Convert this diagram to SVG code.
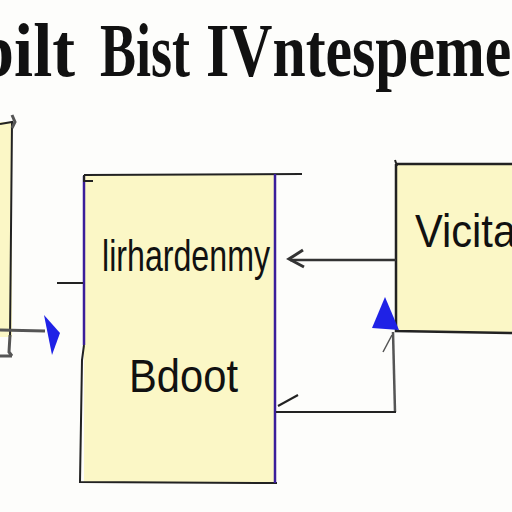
<svg xmlns="http://www.w3.org/2000/svg" width="512" height="512" viewBox="0 0 512 512">
<style>
.title{font-family:"Liberation Serif",serif;font-weight:bold;font-size:76px;fill:#111}
.lbl{font-family:"Liberation Sans",Arial,sans-serif;fill:#111}
.box{fill:#fbf7c6}
.ln{stroke:#222;stroke-width:2;fill:none}
.pu{stroke:#3a1e9a;stroke-width:2.5;fill:none}
.gr{stroke:#555;stroke-width:3;fill:none}
</style>
<rect width="512" height="512" fill="#fdfdfb"/>
<g id="title">
<text class="title" x="-24" y="76" textLength="99" lengthAdjust="spacingAndGlyphs">bilt</text>
<text class="title" x="100" y="76" textLength="90" lengthAdjust="spacingAndGlyphs">Bist</text>
<text class="title" x="206" y="76" textLength="322" lengthAdjust="spacingAndGlyphs">IVntespemel</text>
</g>
<g id="node-left">
<rect class="box" x="0" y="122" width="12" height="215"/>
<path class="ln" d="M0,124 L12,122 L10,340"/>
<path class="gr" d="M12,115 L15,122 L12,128 M10,335 L9,352 L12,356 M0,356 L12,356"/>
</g>
<g id="node-middle">
<rect class="box" x="84" y="175" width="191" height="308"/>
<path class="pu" d="M84,176 L84,345"/>
<path class="ln" d="M84,345 L82,360 L80,482 L277,483"/>
<path class="ln" d="M84,175 L302,174 M84,175 L84,181 L93,181"/>
<path class="pu" d="M275,174 L275,483"/>
<text class="lbl" x="102" y="271" font-size="44" textLength="168" lengthAdjust="spacingAndGlyphs">lirhardenmy</text>
<text class="lbl" x="129" y="392" font-size="46" textLength="109" lengthAdjust="spacingAndGlyphs">Bdoot</text>
</g>
<g id="node-right">
<rect class="box" x="396" y="164" width="116" height="168"/>
<path d="M396,164 L512,164 M396,164 L396,331 L512,333" stroke="#222" stroke-width="2.5" fill="none"/>
<path class="ln" d="M395,160 L397,166"/>
<text class="lbl" x="415" y="247" font-size="46" textLength="115" lengthAdjust="spacingAndGlyphs">Vicitar</text>
</g>
<g id="connectors">
<path class="gr" d="M0,330 L45,331"/>
<polygon points="44,315 60,333 52,355" fill="#1f22e6"/>
<path class="ln" d="M57,283 L83,283"/>
<path d="M396,260 L290,260" stroke="#333" stroke-width="2.5" fill="none"/>
<path d="M303,250 L289,259 L304,267" stroke="#333" stroke-width="3" fill="none"/>
<path d="M393,332 L395,412" stroke="#555" stroke-width="2.5" fill="none"/>
<path d="M392,335 L383,352" stroke="#555" stroke-width="1.5" fill="none"/>
<polygon points="385,297 372,328 399,330" fill="#1f22e6"/>
<path class="ln" d="M396,412 L276,412"/>
<path class="ln" d="M278,406 L298,395"/>
</g>
</svg>
